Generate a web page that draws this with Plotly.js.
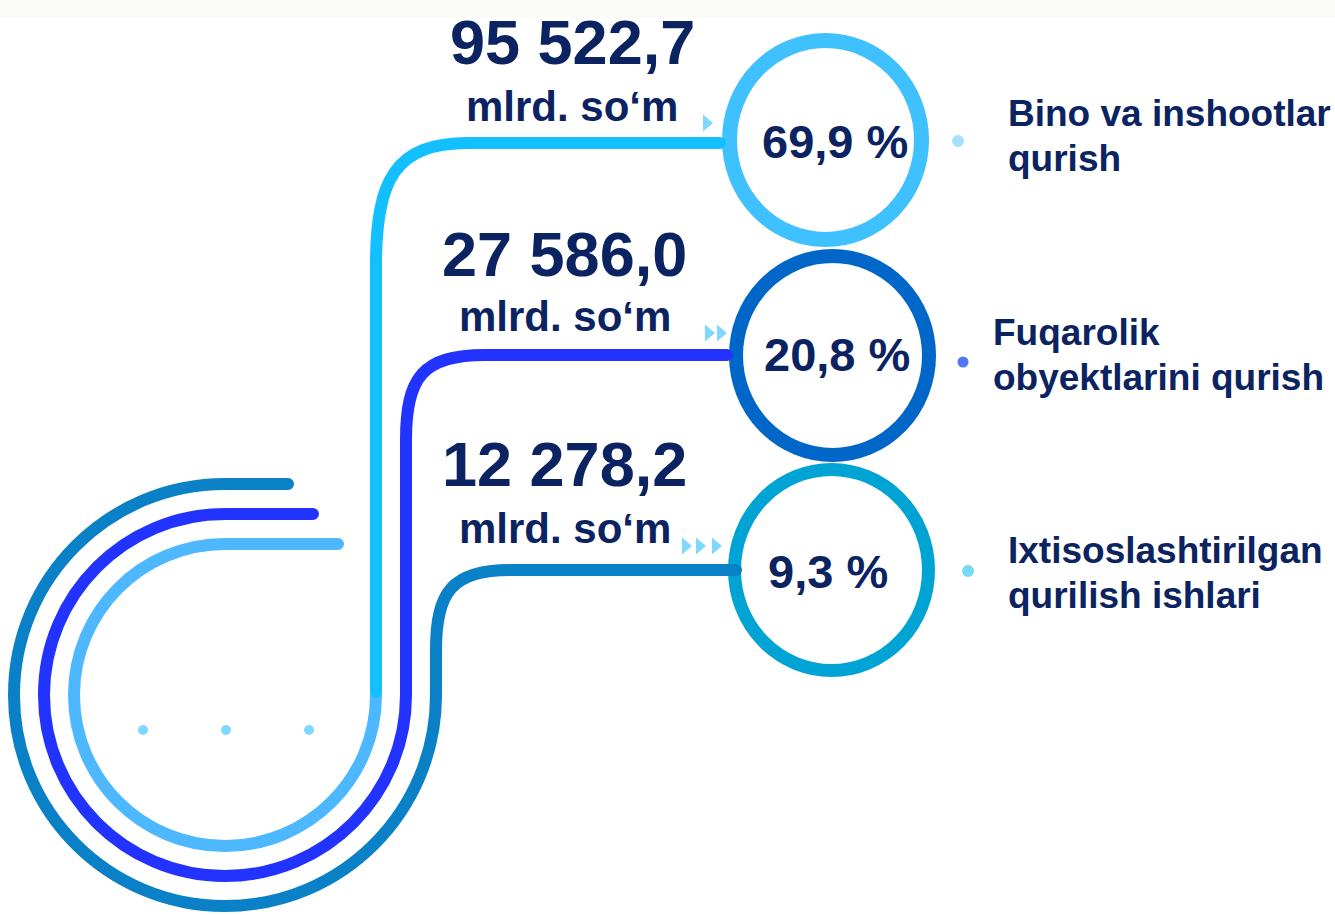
<!DOCTYPE html>
<html>
<head>
<meta charset="utf-8">
<script src="https://cdn.plot.ly/plotly-3.0.1.min.js"></script>
<style>
  html, body { margin: 0; padding: 0; background: #ffffff; }
  #chart { width: 1335px; height: 915px; }
  .shapelayer path { stroke-linecap: round; stroke-linejoin: round; }
</style>
</head>
<body>
<div id="chart"></div>
<script>
// ---- data ----
const categories = [
  ['Bino va inshootlar', 'qurish'],
  ['Fuqarolik', 'obyektlarini qurish'],
  ['Ixtisoslashtirilgan', 'qurilish ishlari']
];
const amounts = [95522.7, 27586.0, 12278.2];
const unitLabel = 'mlrd. so‘m';
const shares = [69.9, 20.8, 9.3];

// ---- styling / layout (not data) ----
const navy = '#0b2360';
const ringColors = ['#3fc0ff', '#0066c8', '#00a4d4'];
const ringWidths = [15, 14, 13];
const ringBoxes = [[722, 33, 929, 247], [729, 249, 936, 462], [728, 463, 935, 677]];
const pctPos = [[835, 141], [837, 354], [828, 571]];
const amountPos = [[572, 42], [564, 254], [564, 464]];
const unitPos = [[572, 106], [565, 316], [565, 528]];
const labelX = [1006, 991, 1006];
const labelY = [[113, 158], [332, 377], [550, 595]];
const dotPos = [[958, 141], [963, 362], [968, 571]];
const dotColors = ['#7fd4ff', '#0a3cf0', '#40c8f0'];
const dotSizes = [12, 11, 12];
const triPos = [[708, 123], [710, 333], [722, 333], [687, 546], [701, 546], [717, 546]];

function fmt(v) {
  const s = v.toFixed(1).split('.');
  const int = s[0].replace(/\B(?=(\d{3})+(?!\d))/g, ' ');
  return int + ',' + s[1];
}
function fmtPct(v) { return v.toFixed(1).replace('.', ',') + ' %'; }

const font = 'Liberation Sans, Arial, sans-serif';
const shapes = [];

// top band
shapes.push({type: 'rect', xref: 'x', yref: 'y', x0: 0, x1: 1335, y0: 0, y1: 18,
  fillcolor: '#fbfcf7', line: {width: 0}, layer: 'below'});

// rings
ringBoxes.forEach((b, i) => {
  const w = ringWidths[i];
  shapes.push({type: 'circle', xref: 'x', yref: 'y',
    x0: b[0] + w / 2, y0: b[1] + w / 2, x1: b[2] - w / 2, y1: b[3] - w / 2,
    line: {color: ringColors[i], width: w}, fillcolor: 'rgba(0,0,0,0)'});
});

// decorative arcs + connectors
const cx = 225, cy = 695, K = 0.5523;
function arcPath(r, startX) {
  const k = K * r;
  return `M ${startX} ${cy - r} L ${cx} ${cy - r} ` +
    `C ${cx - k} ${cy - r} ${cx - r} ${cy - k} ${cx - r} ${cy} ` +
    `C ${cx - r} ${cy + k} ${cx - k} ${cy + r} ${cx} ${cy + r} ` +
    `C ${cx + k} ${cy + r} ${cx + r} ${cy + k} ${cx + r} ${cy}`;
}
const lw = 12;
// outer (teal) arc + connector to ring 3
shapes.push({type: 'path', xref: 'x', yref: 'y',
  path: arcPath(211, 288) + ' L 436 650 C 436 592 452 570 510 570 L 736 570',
  line: {color: '#0a80c6', width: lw}});
// middle (blue) arc + connector to ring 2
shapes.push({type: 'path', xref: 'x', yref: 'y',
  path: arcPath(181, 313) + ' L 406 440 C 406 378 422 355 485 355 L 727 355',
  line: {color: '#2233ff', width: lw}});
// inner (light blue) arc
shapes.push({type: 'path', xref: 'x', yref: 'y',
  path: arcPath(151, 338) + ' L 376 696',
  line: {color: '#4db8ff', width: lw}});
// cyan connector to ring 1
shapes.push({type: 'path', xref: 'x', yref: 'y',
  path: 'M 376 692 L 376 265 C 376 180 395 143 468 143 L 720 143',
  line: {color: '#14bfff', width: lw}});

// small triangles
triPos.forEach(p => {
  shapes.push({type: 'path', xref: 'x', yref: 'y',
    path: `M ${p[0] - 5} ${p[1] - 8.5} L ${p[0] + 5} ${p[1]} L ${p[0] - 5} ${p[1] + 8.5} Z`,
    fillcolor: '#80d8ff', line: {width: 0}});
});

// annotations
const annotations = [];
amounts.forEach((v, i) => {
  annotations.push({x: amountPos[i][0], y: amountPos[i][1], xref: 'x', yref: 'y',
    text: '<b>' + fmt(v) + '</b>', showarrow: false, xanchor: 'center', yanchor: 'middle',
    font: {family: font, size: 63, color: navy}});
  annotations.push({x: unitPos[i][0], y: unitPos[i][1], xref: 'x', yref: 'y',
    text: '<b>' + unitLabel + '</b>', showarrow: false, xanchor: 'center', yanchor: 'middle',
    font: {family: font, size: 42, color: navy}});
});
shares.forEach((v, i) => {
  annotations.push({x: pctPos[i][0], y: pctPos[i][1], xref: 'x', yref: 'y',
    text: '<b>' + fmtPct(v) + '</b>', showarrow: false, xanchor: 'center', yanchor: 'middle',
    font: {family: font, size: 47, color: navy}});
});
categories.forEach((lines, i) => {
  lines.forEach((t, j) => {
    annotations.push({x: labelX[i], y: labelY[i][j], xref: 'x', yref: 'y',
      text: '<b>' + t + '</b>', showarrow: false, xanchor: 'left', yanchor: 'middle', align: 'left',
      font: {family: font, size: 37, color: navy}});
  });
});

const traces = [
  {type: 'scatter', mode: 'markers', x: dotPos.map(p => p[0]), y: dotPos.map(p => p[1]),
   marker: {size: dotSizes, color: dotColors, line: {width: 0}}, hoverinfo: 'skip'},
  {type: 'scatter', mode: 'markers', x: [143, 226, 309], y: [730, 730, 730],
   marker: {size: 10, color: '#7fd8ff', line: {width: 0}}, hoverinfo: 'skip'}
];

const layout = {
  width: 1335, height: 915,
  margin: {l: 0, r: 0, t: 0, b: 0, pad: 0},
  paper_bgcolor: '#ffffff', plot_bgcolor: '#ffffff',
  showlegend: false,
  xaxis: {range: [0, 1335], visible: false, fixedrange: true},
  yaxis: {range: [915, 0], visible: false, fixedrange: true},
  shapes: shapes,
  annotations: annotations
};

Plotly.newPlot('chart', traces, layout, {displayModeBar: false, staticPlot: true});
</script>
</body>
</html>
